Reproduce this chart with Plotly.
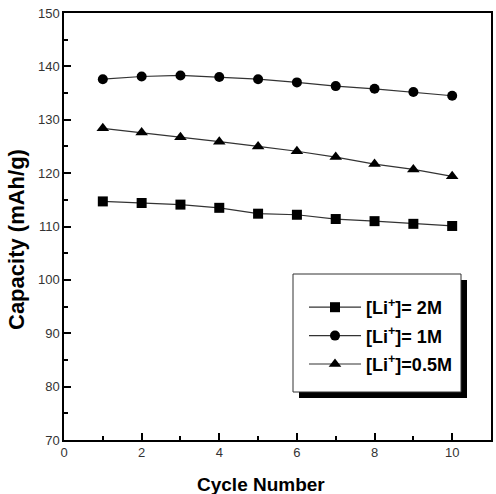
import plotly.graph_objects as go

cycles = [1, 2, 3, 4, 5, 6, 7, 8, 9, 10]
cap_2M = [114.7, 114.4, 114.1, 113.5, 112.4, 112.2, 111.4, 111.0, 110.5, 110.1]
cap_1M = [137.6, 138.1, 138.3, 138.0, 137.6, 137.0, 136.3, 135.8, 135.2, 134.5]
cap_05M = [128.4, 127.6, 126.7, 125.9, 125.0, 124.1, 123.0, 121.7, 120.7, 119.4]
names = ["[Li<sup>+</sup>]= 2M", "[Li<sup>+</sup>]= 1M", "[Li<sup>+</sup>]=0.5M"]
symbols = ["square", "circle", "triangle-up"]
x_title = "<b>Cycle Number</b>"
y_title = "<b>Capacity (mAh/g)</b>"

fig = go.Figure()
for i, (ys, nm, sym) in enumerate(zip([cap_2M, cap_1M, cap_05M], names, symbols)):
    fig.add_trace(go.Scatter(
        x=cycles, y=ys, name=nm, mode="lines+markers",
        line=dict(color="#333333", width=1.2),
        marker=dict(symbol=sym, size=10 if sym != "triangle-up" else 11, color="black"),
        legendgroup=str(i),
    ))

# plot area in px: left 64, right 491, top 13, bottom 440
W, H = 427, 427
def px(x):
    return (x - 64) / W
def py(y):
    return (440 - y) / H

# legend shadow and box
fig.add_shape(type="rect", xref="paper", yref="paper",
              x0=px(299), x1=px(467), y0=py(398), y1=py(280),
              fillcolor="black", line=dict(width=0), layer="above")
fig.add_shape(type="rect", xref="paper", yref="paper",
              x0=px(293), x1=px(461), y0=py(392), y1=py(274),
              fillcolor="white", line=dict(color="#333333", width=1), layer="above")

# axis titles
fig.add_annotation(text=x_title, xref="paper", yref="paper", x=px(261), y=py(484),
                   showarrow=False, xanchor="center", yanchor="middle",
                   font=dict(size=19, color="black"))
fig.add_annotation(text=y_title, xref="paper", yref="paper", x=px(17), y=py(240),
                   showarrow=False, xanchor="center", yanchor="middle", textangle=-90,
                   font=dict(size=22, color="black"))

fig.update_layout(
    width=496, height=494,
    margin=dict(l=64, r=5, t=13, b=54),
    paper_bgcolor="white", plot_bgcolor="white",
    font=dict(family="Liberation Sans, Arial, sans-serif", color="#333333", size=13),
    showlegend=True,
    legend=dict(x=px(304), y=py(289), xanchor="left", yanchor="top",
                bgcolor="rgba(0,0,0,0)", borderwidth=0,
                font=dict(size=18, color="black", weight="bold"),
                traceorder="grouped", tracegroupgap=2,
                itemwidth=52),
    xaxis=dict(range=[0, 11], tickvals=[0, 2, 4, 6, 8, 10], ticks="inside", ticklen=7,
               tickwidth=1.5, tickcolor="black",
               minor=dict(tickvals=[1, 3, 5, 7, 9], ticks="inside", ticklen=4, tickwidth=1.5, tickcolor="black"),
               showline=True, linecolor="black", linewidth=1.5, mirror=True,
               showgrid=False, zeroline=False, automargin=False),
    yaxis=dict(range=[70, 150], tickvals=list(range(70, 151, 10)), ticks="inside", ticklen=7,
               tickwidth=1.5, tickcolor="black",
               minor=dict(tickvals=list(range(75, 150, 10)), ticks="inside", ticklen=4, tickwidth=1.5, tickcolor="black"),
               showline=True, linecolor="black", linewidth=1.5, mirror=True,
               showgrid=False, zeroline=False, automargin=False),
)

fig.write_html("out.html")
